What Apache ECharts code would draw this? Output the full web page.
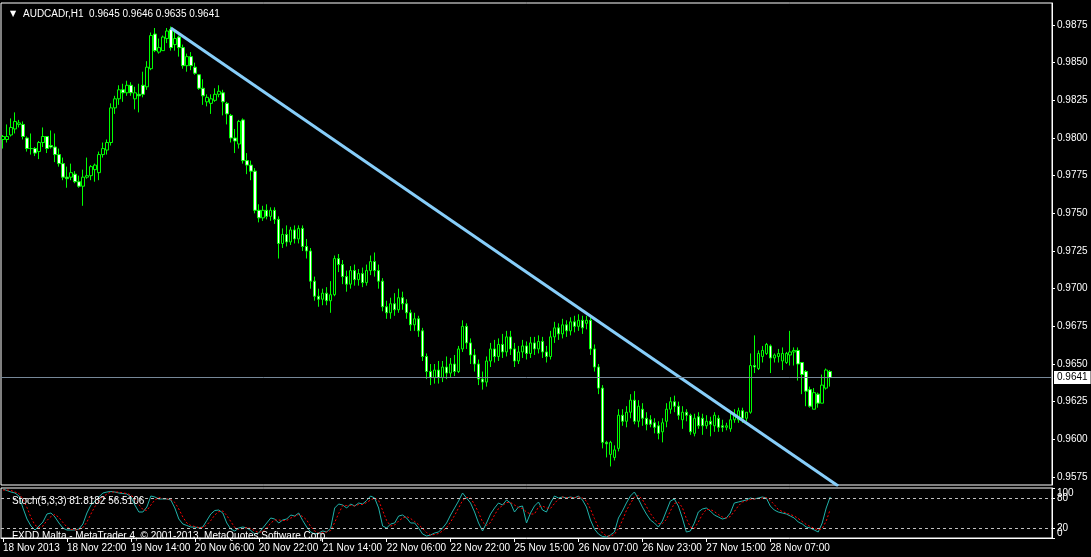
<!DOCTYPE html>
<html><head><meta charset="utf-8">
<script src="https://cdn.jsdelivr.net/npm/echarts@6/dist/echarts.min.js"></script>
<style>html,body{margin:0;padding:0;background:#000;}#c{width:1091px;height:557px;}</style>
</head><body><div id="c"></div>
<script>
// ---- DATA ----
// candles: [open, high, low, close]  (AUDCADr, H1)
const candles = [
[0.9799,0.9802,0.9793,0.9801],[0.9799,0.9809,0.9797,0.9801],[0.9802,0.9813,0.9801,0.9807],[0.9806,0.9817,0.9803,0.9811],
[0.9809,0.9812,0.9807,0.9810],[0.9809,0.9811,0.9799,0.9801],[0.9800,0.9801,0.9791,0.9793],[0.9793,0.9803,0.9789,0.9793],
[0.9793,0.9794,0.9788,0.9790],[0.9791,0.9798,0.9786,0.9797],[0.9797,0.9807,0.9794,0.9801],[0.9801,0.9801,0.9790,0.9793],
[0.9795,0.9805,0.9793,0.9794],[0.9794,0.9803,0.9784,0.9789],[0.9789,0.9793,0.9781,0.9783],[0.9783,0.9787,0.9772,0.9774],
[0.9774,0.9781,0.9767,0.9773],[0.9774,0.9783,0.9772,0.9777],[0.9776,0.9778,0.9770,0.9771],[0.9771,0.9775,0.9767,0.9768],
[0.9768,0.9779,0.9755,0.9774],[0.9774,0.9787,0.9773,0.9775],[0.9775,0.9782,0.9772,0.9781],[0.9779,0.9783,0.9771,0.9782],
[0.9777,0.9791,0.9772,0.9789],[0.9789,0.9797,0.9787,0.9793],[0.9792,0.9799,0.9789,0.9797],[0.9797,0.9823,0.9795,0.9820],
[0.9820,0.9828,0.9816,0.9826],[0.9826,0.9835,0.9822,0.9832],[0.9832,0.9836,0.9824,0.9830],[0.9830,0.9838,0.9828,0.9835],
[0.9835,0.9837,0.9828,0.9830],[0.9826,0.9834,0.9819,0.9830],[0.9829,0.9836,0.9817,0.9828],[0.9835,0.9844,0.9827,0.9829],
[0.9834,0.9851,0.9832,0.9847],[0.9846,0.9870,0.9845,0.9868],[0.9869,0.9873,0.9857,0.9858],[0.9857,0.9866,0.9856,0.9860],
[0.9858,0.9868,0.9858,0.9867],[0.9866,0.9873,0.9863,0.9871],[0.9872,0.9874,0.9858,0.9860],[0.9862,0.9871,0.9858,0.9866],
[0.9867,0.9868,0.9854,0.9860],[0.9860,0.9862,0.9846,0.9848],[0.9848,0.9856,0.9844,0.9854],[0.9854,0.9857,0.9845,0.9848],
[0.9847,0.9850,0.9842,0.9843],[0.9842,0.9842,0.9832,0.9833],[0.9833,0.9839,0.9822,0.9828],[0.9824,0.9829,0.9821,0.9827],
[0.9823,0.9829,0.9816,0.9826],[0.9825,0.9833,0.9824,0.9829],[0.9829,0.9835,0.9827,0.9831],[0.9830,0.9832,0.9815,0.9824],
[0.9823,0.9824,0.9809,0.9816],[0.9815,0.9816,0.9797,0.9800],[0.9800,0.9806,0.9790,0.9798],[0.9796,0.9812,0.9793,0.9811],
[0.9812,0.9813,0.9783,0.9785],[0.9785,0.9790,0.9776,0.9782],[0.9782,0.9785,0.9772,0.9778],[0.9778,0.9780,0.9750,0.9752],
[0.9752,0.9756,0.9744,0.9747],[0.9747,0.9755,0.9745,0.9752],[0.9752,0.9756,0.9746,0.9748],[0.9748,0.9754,0.9745,0.9752],
[0.9752,0.9754,0.9743,0.9746],[0.9746,0.9748,0.9720,0.9730],[0.9730,0.9740,0.9727,0.9736],[0.9736,0.9742,0.9728,0.9731],
[0.9731,0.9741,0.9729,0.9739],[0.9739,0.9742,0.9730,0.9733],[0.9733,0.9742,0.9730,0.9740],[0.9740,0.9742,0.9725,0.9728],
[0.9728,0.9733,0.9720,0.9725],[0.9725,0.9727,0.9700,0.9705],[0.9705,0.9708,0.9692,0.9695],[0.9695,0.9700,0.9688,0.9693],
[0.9693,0.9700,0.9689,0.9697],[0.9697,0.9701,0.9689,0.9692],[0.9692,0.9705,0.9684,0.9696],[0.9696,0.9722,0.9695,0.9720],
[0.9720,0.9723,0.9711,0.9716],[0.9716,0.9719,0.9703,0.9708],[0.9708,0.9712,0.9698,0.9703],[0.9703,0.9715,0.9700,0.9712],
[0.9712,0.9716,0.9702,0.9706],[0.9706,0.9713,0.9702,0.9710],[0.9710,0.9714,0.9701,0.9704],[0.9704,0.9716,0.9702,0.9712],
[0.9712,0.9722,0.9709,0.9718],[0.9718,0.9724,0.9708,0.9712],[0.9712,0.9716,0.9700,0.9705],[0.9705,0.9707,0.9685,0.9688],
[0.9688,0.9692,0.9680,0.9684],[0.9684,0.9694,0.9680,0.9690],[0.9690,0.9697,0.9682,0.9686],[0.9686,0.9700,0.9684,0.9694],
[0.9694,0.9698,0.9686,0.9690],[0.9690,0.9693,0.9680,0.9684],[0.9684,0.9686,0.9672,0.9676],[0.9676,0.9684,0.9672,0.9680],
[0.9680,0.9682,0.9668,0.9672],[0.9672,0.9674,0.9652,0.9655],[0.9655,0.9657,0.9640,0.9645],[0.9645,0.9650,0.9636,0.9641],
[0.9641,0.9650,0.9637,0.9646],[0.9646,0.9652,0.9637,0.9641],[0.9641,0.9652,0.9638,0.9648],[0.9648,0.9655,0.9640,0.9644],
[0.9644,0.9654,0.9641,0.9650],[0.9650,0.9656,0.9642,0.9645],[0.9645,0.9662,0.9644,0.9660],[0.9660,0.9679,0.9658,0.9675],
[0.9675,0.9677,0.9660,0.9664],[0.9664,0.9667,0.9650,0.9656],[0.9656,0.9660,0.9645,0.9650],[0.9650,0.9653,0.9636,0.9640],
[0.9640,0.9645,0.9633,0.9638],[0.9638,0.9655,0.9635,0.9652],[0.9652,0.9664,0.9648,0.9660],[0.9660,0.9666,0.9651,0.9655],
[0.9655,0.9667,0.9652,0.9663],[0.9663,0.9670,0.9654,0.9658],[0.9658,0.9672,0.9655,0.9668],[0.9668,0.9672,0.9656,0.9660],
[0.9660,0.9664,0.9648,0.9652],[0.9652,0.9662,0.9650,0.9658],[0.9658,0.9666,0.9654,0.9662],[0.9662,0.9665,0.9653,0.9657],
[0.9657,0.9668,0.9654,0.9664],[0.9664,0.9668,0.9656,0.9660],[0.9660,0.9669,0.9657,0.9665],[0.9665,0.9668,0.9654,0.9658],
[0.9658,0.9662,0.9651,0.9655],[0.9655,0.9672,0.9653,0.9668],[0.9668,0.9678,0.9664,0.9674],[0.9674,0.9677,0.9666,0.9670],
[0.9670,0.9680,0.9667,0.9676],[0.9676,0.9679,0.9668,0.9672],[0.9672,0.9681,0.9669,0.9678],[0.9678,0.9682,0.9671,0.9675],
[0.9675,0.9683,0.9672,0.9679],[0.9679,0.9682,0.9670,0.9674],[0.9677,0.9682,0.9673,0.9679],[0.9679,0.9681,0.9656,0.9660],
[0.9660,0.9663,0.9645,0.9648],[0.9648,0.9650,0.9630,0.9634],[0.9634,0.9636,0.9594,0.9598],[0.9598,0.9599,0.9588,0.9597],
[0.9590,0.9599,0.9582,0.9598],[0.9588,0.9596,0.9586,0.9593],[0.9594,0.9620,0.9592,0.9616],[0.9616,0.9620,0.9609,0.9612],
[0.9612,0.9622,0.9608,0.9618],[0.9618,0.9630,0.9614,0.9626],[0.9626,0.9632,0.9610,0.9612],[0.9612,0.9626,0.9608,0.9622],
[0.9620,0.9624,0.9609,0.9614],[0.9614,0.9618,0.9606,0.9610],[0.9613,0.9616,0.9608,0.9610],[0.9611,0.9614,0.9604,0.9608],
[0.9609,0.9612,0.9600,0.9604],[0.9605,0.9614,0.9598,0.9611],[0.9612,0.9624,0.9608,0.9620],[0.9620,0.9628,0.9617,0.9625],
[0.9625,0.9629,0.9618,0.9622],[0.9622,0.9625,0.9613,0.9616],[0.9613,0.9622,0.9607,0.9618],[0.9618,0.9620,0.9612,0.9616],
[0.9616,0.9617,0.9603,0.9605],[0.9604,0.9617,0.9602,0.9614],[0.9615,0.9618,0.9607,0.9609],[0.9614,0.9617,0.9603,0.9609],
[0.9609,0.9616,0.9607,0.9612],[0.9612,0.9615,0.9602,0.9610],[0.9609,0.9618,0.9605,0.9616],[0.9614,0.9616,0.9605,0.9608],
[0.9609,0.9613,0.9605,0.9608],[0.9608,0.9611,0.9606,0.9609],[0.9607,0.9618,0.9605,0.9613],[0.9613,0.9620,0.9611,0.9616],
[0.9613,0.9621,0.9611,0.9619],[0.9619,0.9621,0.9611,0.9614],[0.9614,0.9618,0.9612,0.9618],[0.9618,0.9657,0.9617,0.9649],
[0.9649,0.9669,0.9644,0.9648],[0.9647,0.9659,0.9646,0.9657],[0.9655,0.9662,0.9651,0.9659],[0.9657,0.9664,0.9656,0.9663],
[0.9662,0.9663,0.9644,0.9654],[0.9654,0.9657,0.9651,0.9656],[0.9655,0.9660,0.9651,0.9657],[0.9652,0.9661,0.9646,0.9657],
[0.9651,0.9658,0.9650,0.9657],[0.9656,0.9672,0.9649,0.9658],[0.9658,0.9661,0.9649,0.9659],[0.9659,0.9661,0.9639,0.9650],
[0.9651,0.9651,0.9630,0.9643],[0.9645,0.9646,0.9622,0.9632],[0.9633,0.9635,0.9621,0.9622],[0.9620,0.9634,0.9620,0.9631],
[0.9630,0.9631,0.9621,0.9624],[0.9624,0.9643,0.9624,0.9636],[0.9634,0.9647,0.9633,0.9646],[0.9645,0.9646,0.9635,0.9641]
];
// Stochastic(5,3,3): main line and signal line
const stochMain = [
98,95,92,90,84,60,38,24,16,24,32,48,50,42,30,20,16,16,16,18,
28,50,66,74,82,90,92,93,92,90,89,88,82,66,52,52,62,84,82,78,
78,78,76,60,38,28,25,22,22,20,22,35,48,55,56,50,30,18,14,20,
22,20,15,8,10,20,30,40,38,30,36,38,46,44,50,35,22,12,8,10,
14,12,20,60,68,66,60,68,64,70,68,75,84,80,60,24,20,28,30,44,
46,40,30,30,20,8,4,6,10,12,20,30,46,60,74,90,80,70,52,30,
14,30,48,60,70,66,76,70,52,62,64,30,50,64,72,56,52,70,84,80,
82,80,82,80,84,76,62,36,18,8,3,2,6,12,40,54,70,84,92,78,
62,48,36,30,22,34,54,74,78,64,40,12,14,30,52,58,60,54,46,42,
38,40,50,70,72,74,76,80,78,80,82,80,64,56,52,50,48,44,40,32,
28,22,20,16,12,30,60,82
];
const stochSignal = [
96,96,95,92,89,78,61,41,26,21,24,35,43,47,41,31,22,17,16,17,
21,32,48,63,74,82,88,92,92,92,90,89,86,79,67,57,55,66,76,81,
79,78,77,71,58,42,30,25,23,21,21,26,35,46,53,54,45,33,21,17,
19,21,19,14,11,13,20,30,36,36,35,35,40,43,47,43,36,23,14,10,
11,12,15,31,49,65,65,65,64,67,67,71,76,80,75,55,35,24,26,34,
40,43,39,33,27,19,11,6,7,9,14,21,32,45,60,75,81,80,67,51,
32,25,31,46,59,65,71,71,66,61,59,52,48,48,62,64,60,59,69,78,
82,81,81,81,82,80,74,58,39,21,10,4,4,7,19,35,55,69,82,85,
77,63,49,38,29,29,37,54,69,72,61,39,22,19,32,47,57,57,53,47,
42,40,43,53,64,72,74,77,78,79,80,81,75,67,57,53,50,47,44,39,
33,27,23,19,16,19,34,57
];
// x-axis tick labels, one every 16 bars
const timeLabels = ["18 Nov 2013","18 Nov 22:00","19 Nov 14:00","20 Nov 06:00","20 Nov 22:00","21 Nov 14:00","22 Nov 06:00","22 Nov 22:00","25 Nov 15:00","26 Nov 07:00","26 Nov 23:00","27 Nov 15:00","28 Nov 07:00"];
const priceTicks = [0.9575,0.9600,0.9625,0.9650,0.9675,0.9700,0.9725,0.9750,0.9775,0.9800,0.9825,0.9850,0.9875];
const stochEdgeTicks = [0,100];
const stochLevels = [80,20];
const bidPrice = 0.9641;
const trendLine = [[42,0.9873],[209,0.9569]]; // [bar index, price]
const symbolText = "AUDCADr,H1  0.9645 0.9646 0.9635 0.9641";
const stochText = "Stoch(5,3,3) 81.8182 56.5106";
const footerText = "FXDD Malta - MetaTrader 4, \u00A9 2001-2013, MetaQuotes Software Corp.";
const priceMin = 0.95697, priceMax = 0.98896;
const labelEvery = 16;
const totalSlots = 263;

// ---- CHART ----
const cats = [];
for (let i = 0; i < totalSlots; i++) cats.push(String(i));
const ck = candles.map(c => [c[0], c[3], c[2], c[1]]);
const F = 'Liberation Sans, Arial, sans-serif';
const W = '#ffffff';
const chart = echarts.init(document.getElementById('c'), null, {renderer: 'canvas'});
chart.setOption({
  backgroundColor: '#000000',
  animation: false,
  textStyle: {fontFamily: F},
  title: [
    {text: '\u25BC', left: 5, top: 5, textStyle: {color: W, fontSize: 8, fontWeight: 'normal', fontFamily: 'DejaVu Sans'}},
    {text: symbolText, left: 18, top: 4, textStyle: {color: W, fontSize: 10, fontWeight: 'normal', fontFamily: F}},
    {text: stochText, left: 7, top: 491, textStyle: {color: W, fontSize: 10, fontWeight: 'normal', fontFamily: F}},
    {text: footerText, left: 7, top: 526, textStyle: {color: W, fontSize: 10, fontWeight: 'normal', fontFamily: F}}
  ],
  grid: [
    {left: 1, top: 3, width: 1051, height: 482, show: true, borderColor: W, borderWidth: 1, backgroundColor: 'transparent'},
    {left: 1, top: 488, width: 1051, height: 50, show: true, borderColor: W, borderWidth: 1, backgroundColor: 'transparent'}
  ],
  xAxis: [
    {type: 'category', gridIndex: 0, data: cats, boundaryGap: true, axisLine: {show: false}, axisTick: {show: false}, axisLabel: {show: false}, splitLine: {show: false}},
    {type: 'category', gridIndex: 1, data: cats, boundaryGap: true,
     axisLine: {show: true, lineStyle: {color: W, width: 1}},
     axisTick: {show: true, alignWithLabel: true, length: 4, lineStyle: {color: W}, interval: (i) => i % labelEvery === 0 && i / labelEvery < timeLabels.length},
     axisLabel: {show: true, color: W, fontSize: 10, fontFamily: F, align: 'left', margin: 5,
       interval: (i) => i % labelEvery === 0 && i / labelEvery < timeLabels.length,
       formatter: (v, i) => (i % labelEvery === 0 && timeLabels[i / labelEvery]) ? timeLabels[i / labelEvery] : ''},
     splitLine: {show: false}}
  ],
  yAxis: [
    {type: 'value', gridIndex: 0, position: 'right', min: priceMin, max: priceMax, scale: true,
     axisLine: {show: true, lineStyle: {color: W}},
     axisTick: {show: true, length: 3, lineStyle: {color: W}, customValues: priceTicks},
     axisLabel: {show: true, color: W, fontSize: 10, fontFamily: F, margin: 5, customValues: priceTicks, formatter: v => v.toFixed(4)},
     splitLine: {show: false}},
    {type: 'value', gridIndex: 1, position: 'right', min: 0, max: 100,
     axisLine: {show: true, lineStyle: {color: W}},
     axisTick: {show: true, length: 3, lineStyle: {color: W}, customValues: stochEdgeTicks},
     axisLabel: {show: true, color: W, fontSize: 10, fontFamily: F, margin: 5, customValues: stochEdgeTicks,
       showMinLabel: true, showMaxLabel: true,
       formatter: v => v === 100 ? '{t|100}' : '{b|0}',
       rich: {t: {color: W, fontSize: 10, padding: [11, 0, 0, 0]}, b: {color: W, fontSize: 10, padding: [0, 0, 9, 0]}}},
     splitLine: {show: false}},
    {type: 'value', gridIndex: 1, position: 'right', min: 0, max: 100,
     axisLine: {show: false},
     axisTick: {show: true, length: 3, lineStyle: {color: W}, customValues: stochLevels},
     axisLabel: {show: true, color: W, fontSize: 10, fontFamily: F, margin: 5, customValues: stochLevels},
     splitLine: {show: false}}
  ],
  series: [
    {type: 'candlestick', xAxisIndex: 0, yAxisIndex: 0, data: ck, barWidth: 3, clip: true,
     itemStyle: {color: '#000000', color0: '#ffffff', borderColor: '#00ff00', borderColor0: '#00ff00', borderWidth: 1}},
    {type: 'line', xAxisIndex: 0, yAxisIndex: 0, data: trendLine, symbol: 'none', clip: true, silent: true,
     lineStyle: {color: '#87cefa', width: 3},
     markLine: {silent: true, symbol: ['none', 'none'], animation: false, precision: 4,
       lineStyle: {color: '#778899', width: 1, type: 'solid'},
       label: {show: true, position: 'end', distance: 2, formatter: bidPrice.toFixed(4), color: '#000', backgroundColor: '#ffffff', padding: [2, 3, 1, 3], fontSize: 10, fontFamily: F},
       data: [{yAxis: bidPrice}]}},
    {type: 'line', xAxisIndex: 1, yAxisIndex: 1, data: stochMain, symbol: 'none', silent: true,
     lineStyle: {color: '#20b2aa', width: 1},
     markLine: {silent: true, symbol: ['none', 'none'], animation: false, label: {show: false},
       lineStyle: {color: '#c0c0c0', width: 1, type: [3, 3]},
       data: stochLevels.map(v => ({yAxis: v}))}},
    {type: 'line', xAxisIndex: 1, yAxisIndex: 1, data: stochSignal, symbol: 'none', silent: true,
     lineStyle: {color: '#ff0000', width: 1, type: [2, 2]}}
  ]
});
</script></body></html>
